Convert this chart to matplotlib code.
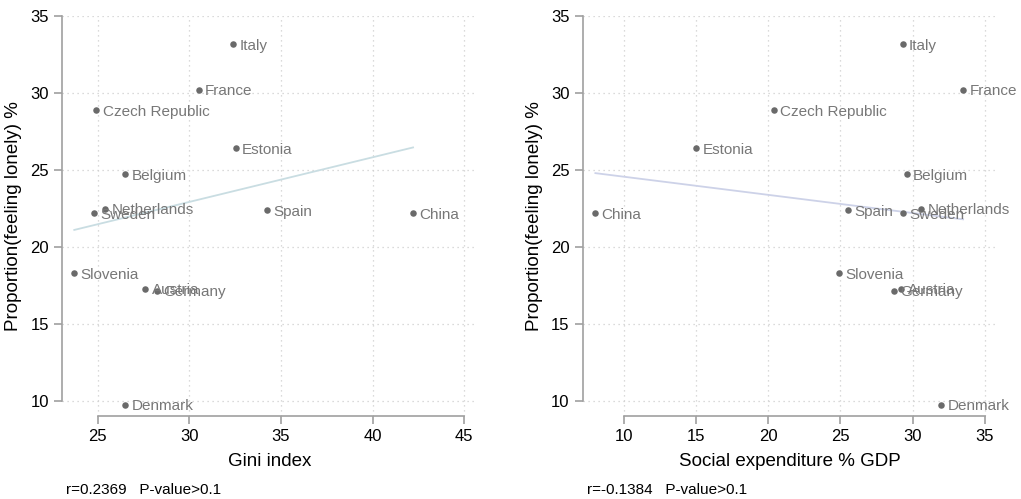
import numpy as np
import matplotlib.pyplot as plt

plt.rcParams['font.family'] = ['Liberation Sans', 'DejaVu Sans']

countries = ['Italy', 'France', 'Czech Republic', 'Estonia', 'Belgium', 'Netherlands',
             'Sweden', 'Spain', 'China', 'Slovenia', 'Austria', 'Germany', 'Denmark']
lonely = [33.14, 30.20, 28.86, 26.39, 24.71, 22.46, 22.18, 22.37, 22.18, 18.30, 17.27, 17.14, 9.74]
gini = [32.41, 30.52, 24.93, 32.52, 26.51, 25.42, 24.82, 34.22, 42.21, 23.72, 27.60, 28.22, 26.51]
social = [29.32, 33.50, 20.40, 15.01, 29.59, 30.61, 29.32, 25.50, 8.01, 24.90, 29.22, 28.69, 32.00]

panels = [
    dict(x=gini, xlabel='Gini index', xticks=[25, 30, 35, 40, 45], xlim=(23.05, 45.7),
         fit_color='#c9dde2', note='r=0.2369   P-value>0.1'),
    dict(x=social, xlabel='Social expenditure % GDP', xticks=[10, 15, 20, 25, 30, 35],
         xlim=(7.13, 35.85), fit_color='#cdd2e8', note='r=-0.1384   P-value>0.1'),
]

fig = plt.figure(figsize=(10.21, 4.99), dpi=100)
W, H = 1021, 499
ax_boxes = [(62, 15.7, 477, 416), (582.7, 15.7, 997, 416)]

y = np.array(lonely)
for p, (l, t, r, b) in zip(panels, ax_boxes):
    ax = fig.add_axes([l / W, 1 - b / H, (r - l) / W, (b - t) / H])
    x = np.array(p['x'])
    ax.set_xlim(*p['xlim'])
    ax.set_ylim(9.03, 35)

    # linear fit
    slope, inter = np.polyfit(x, y, 1)
    xs = np.array([x.min(), x.max()])
    ax.plot(xs, inter + slope * xs, color=p['fit_color'], lw=1.3, zorder=2)

    ax.scatter(x, y, s=22, color='#6a6a6a', zorder=3, linewidths=0)
    for name, xi, yi in zip(countries, x, y):
        ax.annotate(name, (xi, yi), xytext=(4.5, -1), textcoords='offset points',
                    ha='left', va='center', fontsize=11, color='#777777', zorder=4,
                    annotation_clip=False)

    ax.set_xticks(p['xticks'])
    ax.set_yticks([10, 15, 20, 25, 30, 35])
    ax.grid(True, color='#cfcfcf', linestyle=(0, (1, 3)), lw=0.9)
    ax.set_axisbelow(True)
    for s in ['top', 'right']:
        ax.spines[s].set_visible(False)
    ax.spines['left'].set_bounds(10, 35)
    ax.spines['bottom'].set_bounds(p['xticks'][0], p['xticks'][-1])
    for s in ['left', 'bottom']:
        ax.spines[s].set_color('#a0a0a0')
        ax.spines[s].set_linewidth(1.2)
    ax.tick_params(colors='#a0a0a0', labelcolor='black', labelsize=12, length=6, width=1.2)
    ax.set_xlabel(p['xlabel'], fontsize=13.5, labelpad=6)
    ax.set_ylabel('Proportion(feeling lonely) %', fontsize=13.5, labelpad=6)
    ax.text(l / W + 0.004, 1 - 490 / H, p['note'], transform=fig.transFigure,
            fontsize=11, ha='left', va='center')

fig.savefig('out.png', dpi=100)
